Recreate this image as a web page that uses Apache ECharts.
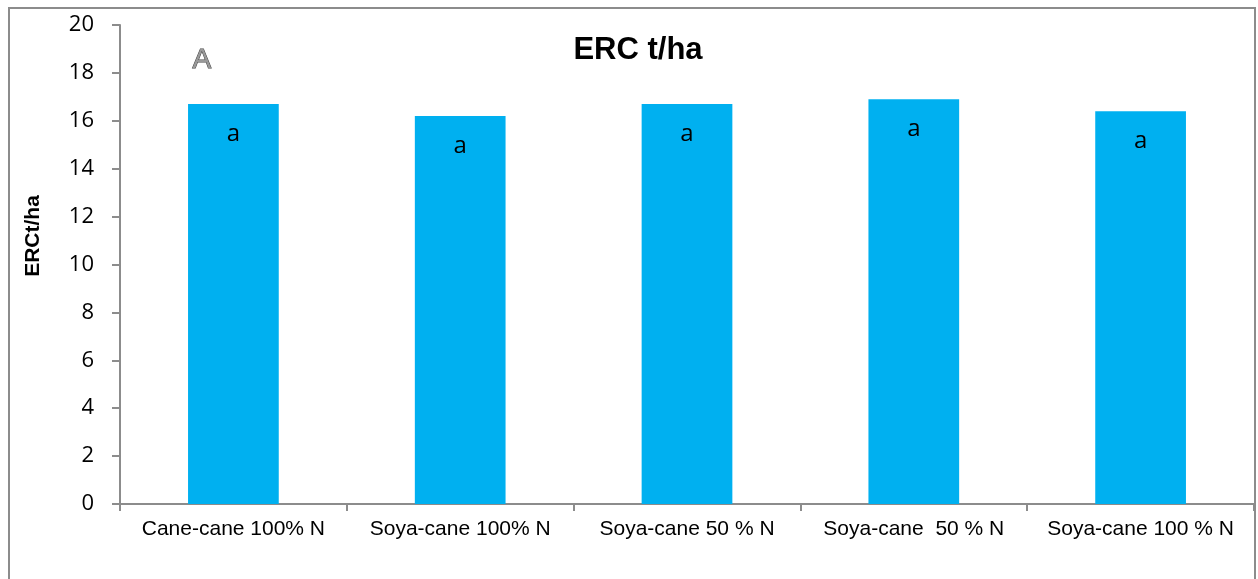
<!DOCTYPE html>
<html>
<head>
<meta charset="utf-8">
<script src="https://cdn.jsdelivr.net/npm/echarts@6/dist/echarts.min.js"></script>
<style>html,body{margin:0;padding:0;background:#fff}#c{width:1258px;height:579px}</style>
</head>
<body>
<div id="c"></div>
<script>
const categories = ['Cane-cane 100% N', 'Soya-cane 100% N', 'Soya-cane 50 % N', 'Soya-cane  50 % N', 'Soya-cane 100 % N'];
const ercValues = [16.7, 16.2, 16.7, 16.9, 16.4];
const letters = ['a', 'a', 'a', 'a', 'a'];
const yTicks = { min: 0, max: 20, interval: 2 };

const chart = echarts.init(document.getElementById('c'), null, { renderer: 'canvas' });
chart.setOption({
  animation: false,
  backgroundColor: '#ffffff',
  title: {
    text: 'ERC t/ha',
    left: 633, top: 30, textAlign: 'center',
    textStyle: { fontFamily: 'Liberation Sans', fontWeight: 'bold', fontSize: 31, color: '#000' }
  },
  graphic: [
    { type: 'rect', shape: { x: 9, y: 8, width: 1246, height: 620 }, style: { fill: 'none', stroke: '#8c8c8c', lineWidth: 2 }, silent: true },
    { type: 'text', left: 192, top: 46, style: { text: 'A', font: '28px "Liberation Sans"', fill: '#999', stroke: '#444', lineWidth: 1 } },
    { type: 'text', x: 33, y: 236, rotation: Math.PI / 2,
      style: { text: 'ERCt/ha', font: 'bold 21px "Liberation Sans"', fill: '#000', align: 'center', verticalAlign: 'middle' } }
  ],
  grid: { left: 120, right: 4, top: 25, bottom: 75 },
  xAxis: {
    type: 'category',
    data: categories,
    axisLine: { lineStyle: { color: '#8c8c8c', width: 2 } },
    axisTick: { show: true, length: 7, lineStyle: { color: '#8c8c8c', width: 2 } },
    axisLabel: { margin: 15, fontFamily: 'Liberation Sans', fontSize: 21, color: '#000', interval: 0 }
  },
  yAxis: {
    type: 'value',
    min: yTicks.min, max: yTicks.max, interval: yTicks.interval,
    axisLine: { show: true, lineStyle: { color: '#8c8c8c', width: 2 } },
    axisTick: { show: true, length: 8, lineStyle: { color: '#8c8c8c', width: 2 } },
    splitLine: { show: false },
    axisLabel: { margin: 26, fontFamily: 'Open Sans', fontSize: 22, color: '#000' }
  },
  series: [{
    type: 'bar',
    data: ercValues,
    barWidth: '40%',
    itemStyle: { color: '#00B0F0' },
    label: {
      show: true, position: 'insideTop', distance: 18,
      formatter: p => letters[p.dataIndex],
      fontFamily: 'Open Sans', fontSize: 24, color: '#000'
    }
  }]
});
</script>
</body>
</html>
